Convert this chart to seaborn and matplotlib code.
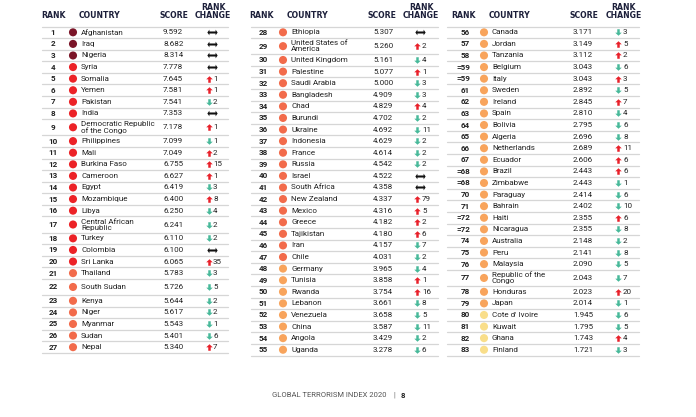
import numpy as np
import pandas as pd
import matplotlib.pyplot as plt
from matplotlib.path import Path
import seaborn as sns

sns.set_theme(style="white")
plt.rcParams["font.family"] = ["Roboto", "DejaVu Sans"]

# Data (Global Terrorism Index 2020, ranks 1-83)
ranks = ["1", "2", "3", "4", "5", "6", "7", "8", "9", "10", "11", "12", "13", "14",
         "15", "16", "17", "18", "19", "20", "21", "22", "23", "24", "25", "26", "27",
         "28", "29", "30", "31", "32", "33", "34", "35", "36", "37", "38", "39", "40",
         "41", "42", "43", "44", "45", "46", "47", "48", "49", "50", "51", "52", "53",
         "54", "55",
         "56", "57", "58", "=59", "=59", "61", "62", "63", "64", "65", "66", "67",
         "=68", "=68", "70", "71", "=72", "=72", "74", "75", "76", "77", "78", "79",
         "80", "81", "82", "83"]
countries = ["Afghanistan", "Iraq", "Nigeria", "Syria", "Somalia", "Yemen", "Pakistan",
             "India", "Democratic Republic\nof the Congo", "Philippines", "Mali",
             "Burkina Faso", "Cameroon", "Egypt", "Mozambique", "Libya",
             "Central African\nRepublic", "Turkey", "Colombia", "Sri Lanka", "Thailand",
             "South Sudan", "Kenya", "Niger", "Myanmar", "Sudan", "Nepal",
             "Ethiopia", "United States of\nAmerica", "United Kingdom", "Palestine",
             "Saudi Arabia", "Bangladesh", "Chad", "Burundi", "Ukraine", "Indonesia",
             "France", "Russia", "Israel", "South Africa", "New Zealand", "Mexico",
             "Greece", "Tajikistan", "Iran", "Chile", "Germany", "Tunisia", "Rwanda",
             "Lebanon", "Venezuela", "China", "Angola", "Uganda",
             "Canada", "Jordan", "Tanzania", "Belgium", "Italy", "Sweden", "Ireland",
             "Spain", "Bolivia", "Algeria", "Netherlands", "Ecuador", "Brazil",
             "Zimbabwe", "Paraguay", "Bahrain", "Haiti", "Nicaragua", "Australia",
             "Peru", "Malaysia", "Republic of the\nCongo", "Honduras", "Japan",
             "Cote d' Ivoire", "Kuwait", "Ghana", "Finland"]
scores = [9.592, 8.682, 8.314, 7.778, 7.645, 7.581, 7.541, 7.353, 7.178, 7.099, 7.049,
          6.755, 6.627, 6.419, 6.400, 6.250, 6.241, 6.110, 6.100, 6.065, 5.783, 5.726,
          5.644, 5.617, 5.543, 5.401, 5.340,
          5.307, 5.260, 5.161, 5.077, 5.000, 4.909, 4.829, 4.702, 4.692, 4.629, 4.614,
          4.542, 4.522, 4.358, 4.337, 4.316, 4.182, 4.180, 4.157, 4.031, 3.965, 3.858,
          3.754, 3.661, 3.658, 3.587, 3.429, 3.278,
          3.171, 3.149, 3.112, 3.043, 3.043, 2.892, 2.845, 2.810, 2.795, 2.696, 2.689,
          2.606, 2.443, 2.443, 2.414, 2.402, 2.355, 2.355, 2.148, 2.141, 2.090, 2.043,
          2.023, 2.014, 1.945, 1.795, 1.743, 1.721]
# positive = moved up (red arrow), negative = moved down (teal arrow), 0 = no change
changes = [0, 0, 0, 0, 1, 1, -2, 0, 1, -1, 2, 15, 1, -3, 8, -4, -2, -2, 0, 35, -3, -5,
           -2, -2, -1, -6, 7,
           0, 2, -4, 1, -3, -3, 4, -2, -11, -2, -2, -2, 0, 0, 79, 5, 2, 6, -7, -2, -4,
           1, 16, -8, -5, -11, -2, -6,
           -3, 5, 2, -6, 3, -5, 7, -4, -6, -8, 11, 6, 6, -1, -6, -10, 6, -8, -2, -8,
           -5, -7, 20, -1, -6, -5, 4, -3]
panel_sizes = [27, 28, 28]

df = pd.DataFrame({"rank": ranks, "country": countries, "score": scores,
                   "change": changes})
df["panel"] = np.repeat([0, 1, 2], panel_sizes)
df["tier"] = pd.cut(df["score"], [0, 2, 4, 6, 8, 10],
                    labels=["t1", "t2", "t3", "t4", "t5"], right=False)
palette = {"t5": "#7b1528", "t4": "#ec2227", "t3": "#f26b4b",
           "t2": "#f8a45c", "t1": "#f9de8a"}

# row geometry (pixel space)
Y0, SH, TH = 32.3, 11.59, 16.1
tall = df["country"].str.contains("\n") | (df["country"] == "South Sudan")
df["h"] = np.where(tall, TH, SH)
df["top"] = df.groupby("panel")["h"].cumsum() - df["h"] + Y0 - SH / 2
df["y"] = df["top"] + df["h"] / 2

# column layout per panel
layout = [
    dict(rank=53, rank_ha="center", dot=73, name=81, score=163, arrow=209, num=213,
         l0=42, l1=228, hrank=53, hcountry=79, hscore=159, hchange=213),
    dict(rank=263, rank_ha="center", dot=283, name=291, score=373, arrow=417, num=422,
         l0=251, l1=438, hrank=261, hcountry=287, hscore=367, hchange=421),
    dict(rank=470, rank_ha="right", dot=484, name=492, score=573, arrow=618, num=623,
         l0=447, l1=639, hrank=463, hcountry=489, hscore=569, hchange=624),
]
df["dot_x"] = [layout[p]["dot"] for p in df["panel"]]
df["arrow_x"] = [layout[p]["arrow"] for p in df["panel"]]

# arrow markers
up_arrow = Path([(0, 1), (1, 0.05), (0.38, 0.05), (0.38, -1), (-0.38, -1),
                 (-0.38, 0.05), (-1, 0.05), (0, 1)], closed=True)
down_arrow = Path([(x, -y) for x, y in up_arrow.vertices], closed=True)
both_arrow = Path([(-1, 0), (-0.6, 0.55), (-0.6, 0.2), (0.6, 0.2), (0.6, 0.55),
                   (1, 0), (0.6, -0.55), (0.6, -0.2), (-0.6, -0.2),
                   (-0.6, -0.55), (-1, 0)], closed=True)

fig = plt.figure(figsize=(6.96, 4.17), dpi=100)
ax = fig.add_axes([0, 0, 1, 1])

TXT = "#222222"
HDR = "#1c1f3a"
LINE = "#d6d6d6"
UP = "#e8202a"
DOWN = "#48b99a"

for p, lay in enumerate(layout):
    sub = df[df["panel"] == p]
    # headers
    hk = dict(fontsize=5.6, fontweight="bold", color=HDR, va="center",
              family="DejaVu Sans")
    ax.text(lay["hrank"], 15, "RANK", ha="center", **hk)
    ax.text(lay["hcountry"], 15, "COUNTRY", ha="left", **hk)
    ax.text(lay["hscore"], 15, "SCORE", ha="left", **hk)
    ax.text(lay["hchange"], 11.5, "RANK\nCHANGE", ha="center", linespacing=0.9, **hk)
    ax.plot([lay["l0"], lay["l1"]], [Y0 - SH / 2] * 2, color=LINE, lw=0.9)
    for _, r in sub.iterrows():
        ax.plot([lay["l0"], lay["l1"]], [r["top"] + r["h"]] * 2, color=LINE, lw=0.9)
        ax.text(lay["rank"], r["y"], r["rank"], ha=lay["rank_ha"], va="center",
                fontsize=5.8, fontweight="bold", color=TXT)
        ax.text(lay["name"], r["y"], r["country"], ha="left", va="center",
                fontsize=5.8, color=TXT, linespacing=1.0)
        ax.text(lay["score"], r["y"], f"{r['score']:.3f}", ha="left", va="center",
                fontsize=5.8, color=TXT)
        if r["change"] != 0:
            ax.text(lay["num"], r["y"], str(abs(r["change"])), ha="left",
                    va="center", fontsize=5.8, color=TXT)

sns.scatterplot(data=df, x="dot_x", y="y", hue="tier", palette=palette, s=34,
                linewidth=0, legend=False, ax=ax)
ups = df[df["change"] > 0]
downs = df[df["change"] < 0]
same = df[df["change"] == 0]
ax.scatter(ups["arrow_x"], ups["y"], marker=up_arrow, s=22, color=UP, linewidths=0)
ax.scatter(downs["arrow_x"], downs["y"], marker=down_arrow, s=22, color=DOWN,
           linewidths=0)
ax.scatter(same["arrow_x"] + 3, same["y"], marker=both_arrow, s=55, color="#111111",
           linewidths=0)

ax.set_xlim(0, 696)
ax.set_ylim(417, 0)
ax.axis("off")

# footer
ax.text(387, 395, "GLOBAL TERRORISM INDEX 2020", ha="right", va="center",
        fontsize=5.5, color="#555555")
ax.text(394, 395, "|", ha="center", va="center", fontsize=5.5, color="#555555")
ax.text(401, 395, "8", ha="left", va="center", fontsize=5.5, fontweight="bold",
        color="#222222")

fig.savefig("out.png", dpi=100, facecolor="white")
